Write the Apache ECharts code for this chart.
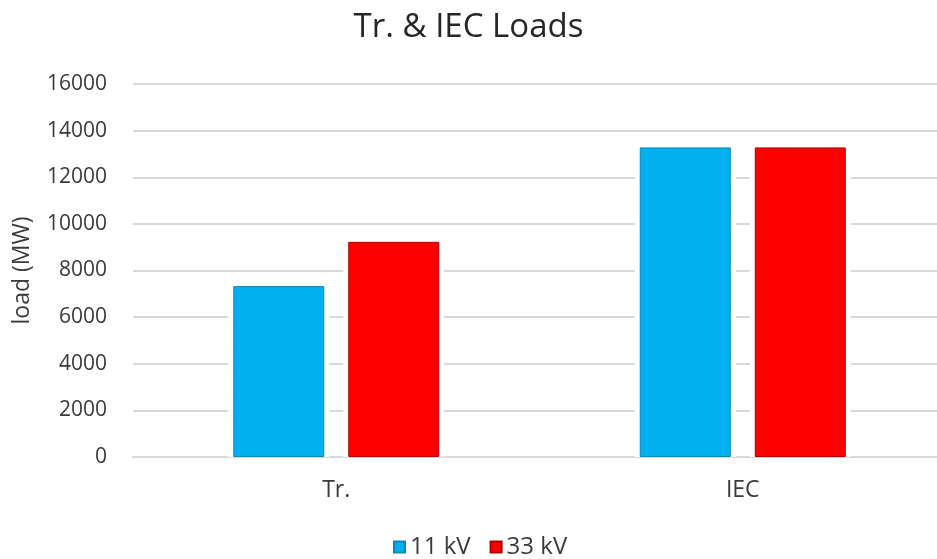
<!DOCTYPE html>
<html>
<head>
<meta charset="utf-8">
<script src="https://cdn.jsdelivr.net/npm/echarts@6/dist/echarts.min.js"></script>
<style>
  html, body { margin: 0; padding: 0; background: #ffffff; }
  #chart { width: 937px; height: 559px; }
</style>
</head>
<body>
<div id="chart"></div>
<script>
// Load comparison between transformer (Tr.) and IEC, by voltage level
const categories = ['Tr.', 'IEC'];
const load11kV = [7330, 13280];
const load33kV = [9230, 13280];
const seriesNames = ['11 kV', '33 kV'];

const FONT = '"Open Sans", "Noto Sans", sans-serif';
const TEXT = '#3a3a3a';
const BAR_W = 91;
const BAR_GAP = 24;                 // space between the two bars of a group
const HALO_W = BAR_W + 10;          // white halo behind each bar that interrupts the gridlines
const HALO_GAP = (BAR_W + BAR_GAP - HALO_W) / HALO_W * 100 + '%';

const chart = echarts.init(document.getElementById('chart'), null, { renderer: 'canvas' });

function haloSeries(values) {
  return {
    type: 'bar',
    xAxisIndex: 1,
    data: values,
    barWidth: HALO_W,
    barGap: HALO_GAP,
    silent: true,
    z: 1,
    legendHoverLink: false,
    itemStyle: { color: '#ffffff' }
  };
}

chart.setOption({
  backgroundColor: '#ffffff',
  animation: false,
  title: {
    text: 'Tr. & IEC Loads',
    left: 'center',
    top: 6,
    textStyle: { fontFamily: FONT, fontSize: 33, fontWeight: 'normal', color: '#262626' }
  },
  legend: {
    data: seriesNames,
    top: 530,
    left: 388,
    itemWidth: 11,
    itemHeight: 11,
    itemGap: 19,
    icon: 'rect',
    textStyle: { fontFamily: FONT, fontSize: 24, color: TEXT }
  },
  grid: {
    left: 133, top: 84, width: 813, height: 373,
    containLabel: false,
    outerBoundsMode: 'none'
  },
  xAxis: [
    {
      type: 'category',
      data: categories,
      axisLine: { show: true, lineStyle: { color: '#d9d9d9', width: 2 } },
      axisTick: { show: false },
      axisLabel: { fontFamily: FONT, fontSize: 23, color: TEXT, margin: 22 }
    },
    {
      type: 'category',
      data: categories,
      show: false
    }
  ],
  yAxis: {
    type: 'value',
    min: 0,
    max: 16000,
    interval: 2000,
    name: 'load (MW)',
    nameLocation: 'middle',
    nameGap: 99,
    nameTextStyle: { fontFamily: FONT, fontSize: 23, color: TEXT },
    axisLine: { show: false },
    axisTick: { show: false },
    axisLabel: { fontFamily: FONT, fontSize: 21, color: TEXT, margin: 26, formatter: v => String(v) },
    splitLine: { lineStyle: { color: '#d9d9d9', width: 2 } }
  },
  series: [
    haloSeries(load11kV),
    haloSeries(load33kV),
    {
      name: seriesNames[0],
      type: 'bar',
      data: load11kV,
      barWidth: BAR_W,
      barGap: (BAR_GAP / BAR_W * 100) + '%',
      z: 3,
      itemStyle: { color: '#00b0f0', borderColor: '#0a86b8', borderWidth: 1 }
    },
    {
      name: seriesNames[1],
      type: 'bar',
      data: load33kV,
      barWidth: BAR_W,
      barGap: (BAR_GAP / BAR_W * 100) + '%',
      z: 3,
      itemStyle: { color: '#ff0000', borderColor: '#b00000', borderWidth: 1 }
    }
  ]
});
</script>
</body>
</html>
